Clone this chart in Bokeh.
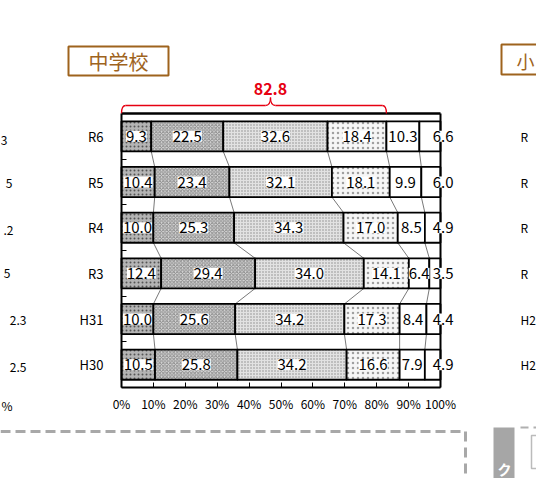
import numpy as np
from bokeh.plotting import figure
from bokeh.models import ColumnDataSource, Range1d, LinearAxis, FixedTicker, LabelSet
from bokeh.core.properties import value
from bokeh.embed import file_html
from bokeh.resources import INLINE

# ---------------- data ----------------
years = ["R6", "R5", "R4", "R3", "H31", "H30"]
s1 = [9.3, 10.4, 10.0, 12.4, 10.0, 10.5]
s2 = [22.5, 23.4, 25.3, 29.4, 25.6, 25.8]
s3 = [32.6, 32.1, 34.3, 34.0, 34.2, 34.2]
s4 = [18.4, 18.1, 17.0, 14.1, 17.3, 16.6]
s5 = [10.3, 9.9, 8.5, 6.4, 8.4, 7.9]
s6 = [6.6, 6.0, 4.9, 3.5, 4.4, 4.9]
series = [s1, s2, s3, s4, s5, s6]
tick_values = list(range(0, 101, 10))
tick_labels = [f"{t}%" for t in tick_values]
title_text = "中学校"
neighbor_title = "小"
left_fragments = ["3", "5", ".2", "5", "2.3", "2.5", "%"]
right_fragments = ["R", "R", "R", "R", "H2", "H2"]
tab_text = "ク"

# ---------------- styles ----------------
FONT = "Noto Sans CJK JP"
BROWN = "#9e631d"
RED = "#e60012"
BAR_H = 0.66
W, H = 536, 478
seg_styles = [
    dict(fill_color="#b4b4b4", hatch_pattern="dot", hatch_color="#555555", hatch_scale=4, hatch_weight=1.6),
    dict(fill_color="#d8d8d8", hatch_pattern="diagonal_cross", hatch_color="#8c8c8c", hatch_scale=3.5, hatch_weight=1),
    dict(fill_color="#e2e2e2", hatch_pattern="dot", hatch_color="#8a8a8a", hatch_scale=3, hatch_weight=1),
    dict(fill_color="#f6f6f6", hatch_pattern="dot", hatch_color="#a0a0a0", hatch_scale=5, hatch_weight=0.6),
    dict(fill_color="white"),
    dict(fill_color="white"),
]

# page-pixel helpers for decorations (layout only)
def X(px):
    return (px - 121) / 3.19

def Y(py):
    return (364.2 - py) / 45.67

p = figure(width=W, height=H, x_range=Range1d(X(0), X(W)), y_range=Range1d(Y(H), Y(0)),
           toolbar_location=None, output_backend="svg", x_axis_location=None, y_axis_location=None,
           min_border=0)
p.outline_line_color = None
p.xgrid.visible = False
p.ygrid.visible = False
p.background_fill_color = "white"

n = len(years)
rows = [n - 1 - i for i in range(n)]
arr = np.array(series, dtype=float)
totals = arr.sum(axis=0)
cum = np.cumsum(arr / totals * 100, axis=0)
left = np.vstack([np.zeros(n), cum[:-1]])

# connector lines between bars
cx0, cy0, cx1, cy1 = [], [], [], []
for i in range(n - 1):
    for k in range(len(series) - 1):
        cx0.append(cum[k][i]); cy0.append(rows[i] - BAR_H / 2)
        cx1.append(cum[k][i + 1]); cy1.append(rows[i + 1] + BAR_H / 2)
p.segment(x0=cx0, y0=cy0, x1=cx1, y1=cy1, line_color="#555555", line_width=0.8)

# bars
for k in range(len(series)):
    src = ColumnDataSource(dict(y=rows, left=left[k], right=cum[k]))
    p.hbar(y="y", left="left", right="right", height=BAR_H, source=src,
           line_color="black", line_width=1.8, **seg_styles[k])

# frame lines
p.segment(x0=[tick_values[0]], y0=[rows[0] + 0.5], x1=[tick_values[-1]], y1=[rows[0] + 0.5],
          line_color="black", line_width=2.5)
p.segment(x0=[tick_values[-1]], y0=[rows[-1] - 0.5], x1=[tick_values[-1]], y1=[rows[0] + 0.5],
          line_color="black", line_width=2)

# value labels
lx, ly, lt = [], [], []
for k in range(len(series)):
    for i in range(n):
        if k < len(series) - 1:
            lx.append((left[k][i] + cum[k][i]) / 2)
        else:
            lx.append(100.8)
        ly.append(rows[i])
        lt.append(f"{series[k][i]:.1f}")
lab_src = ColumnDataSource(dict(x=lx, y=ly, t=lt))
p.add_layout(LabelSet(x="x", y="y", text="t", source=lab_src, text_align="center",
                      text_baseline="middle", text_font=value(FONT), text_font_size="15px",
                      text_color="black", background_fill_color="white"))

# axes
xa = LinearAxis(fixed_location=rows[-1] - 0.5, bounds=(tick_values[0], tick_values[-1]),
                ticker=FixedTicker(ticks=tick_values, minor_ticks=[]),
                major_label_overrides=dict(zip(tick_values, tick_labels)),
                axis_line_width=2, major_tick_in=5, major_tick_out=0,
                minor_tick_line_color=None, major_label_standoff=7,
                major_label_text_font=FONT, major_label_text_font_size="12px",
                major_label_text_color="black")
p.add_layout(xa, "below")
ya = LinearAxis(fixed_location=tick_values[0], bounds=(rows[-1] - 0.5, rows[0] + 0.5),
                ticker=FixedTicker(ticks=rows, minor_ticks=[r + 0.5 for r in rows[1:]]),
                major_label_overrides=dict(zip(rows, years)),
                axis_line_width=2, major_tick_line_color=None,
                minor_tick_in=5, minor_tick_out=0, minor_tick_line_width=1,
                major_label_standoff=12,
                major_label_text_font=FONT, major_label_text_font_size="13px",
                major_label_text_color="black")
p.add_layout(ya, "left")

# red bracket for the top four segments of the first row
bracket_total = sum(s[0] for s in series[:4])
bx_end = cum[3][0]
mid = X(270)
ytop = rows[0] + 0.5
yh = Y(105)
ypk = Y(97)
dx = 1.3
p.quadratic(x0=[0], y0=[ytop], x1=[dx], y1=[yh], cx=[0], cy=[yh], line_color=RED, line_width=1.3)
p.segment(x0=[dx], y0=[yh], x1=[mid - 1.6], y1=[yh], line_color=RED, line_width=1.3)
p.quadratic(x0=[mid - 1.6], y0=[yh], x1=[mid], y1=[ypk], cx=[mid], cy=[yh], line_color=RED, line_width=1.3)
p.quadratic(x0=[mid], y0=[ypk], x1=[mid + 1.6], y1=[yh], cx=[mid], cy=[yh], line_color=RED, line_width=1.3)
p.segment(x0=[mid + 1.6], y0=[yh], x1=[bx_end - dx], y1=[yh], line_color=RED, line_width=1.3)
p.quadratic(x0=[bx_end - dx], y0=[yh], x1=[bx_end], y1=[ytop], cx=[bx_end], cy=[yh], line_color=RED, line_width=1.3)
p.text(x=[mid], y=[Y(88)], text=[f"{bracket_total:.1f}"], text_align="center", text_baseline="middle",
       text_font=value(FONT), text_font_size="16px", text_font_style="bold", text_color=RED)

# title box
p.quad(left=[X(68)], right=[X(168)], top=[Y(46)], bottom=[Y(75)], fill_color=None,
       line_color=BROWN, line_width=2)
p.text(x=[X(118)], y=[Y(61)], text=[title_text], text_align="center", text_baseline="middle",
       text_font=value(FONT), text_font_size="20px", text_color=BROWN)

# neighbouring chart fragments
p.quad(left=[X(501)], right=[X(570)], top=[Y(44)], bottom=[Y(74)], fill_color=None,
       line_color=BROWN, line_width=2)
p.text(x=[X(516)], y=[Y(60)], text=[neighbor_title], text_align="left", text_baseline="middle",
       text_font=value(FONT), text_font_size="18px", text_color=BROWN)
p.text(x=[X(520)] * n, y=rows, text=right_fragments, text_align="left", text_baseline="middle",
       text_font=value(FONT), text_font_size="12px", text_color="black")
p.text(x=[X(7), X(12), X(13), X(10), X(26), X(26), X(12)],
       y=[Y(140), Y(183), Y(230), Y(273), Y(320), Y(367), Y(405)],
       text=left_fragments, text_align="right",
       text_baseline="middle", text_font=value(FONT), text_font_size="12px", text_color="black")

# dashed box and tab at bottom
p.line(x=[X(0), X(465)], y=[Y(431), Y(431)], line_color="#a8a8a8", line_width=3, line_dash="10 5")
p.line(x=[X(465), X(465)], y=[Y(431), Y(480)], line_color="#a8a8a8", line_width=3, line_dash="10 6")
p.quad(left=[X(493)], right=[X(514)], top=[Y(427)], bottom=[Y(480)], fill_color="#a6a6a6", line_color=None)
p.text(x=[X(504)], y=[Y(468)], text=[tab_text], text_align="center", text_baseline="middle",
       text_font=value(FONT), text_font_size="14px", text_font_style="bold", text_color="white")
p.line(x=[X(520), X(540)], y=[Y(427), Y(427)], line_color="#b0b0b0", line_width=2, line_dash="8 5")
p.quad(left=[X(531)], right=[X(560)], top=[Y(435)], bottom=[Y(468)], fill_color=None,
       line_color="#bbbbbb", line_width=1.5)

open("out.html", "w", encoding="utf-8").write(file_html(p, INLINE))
